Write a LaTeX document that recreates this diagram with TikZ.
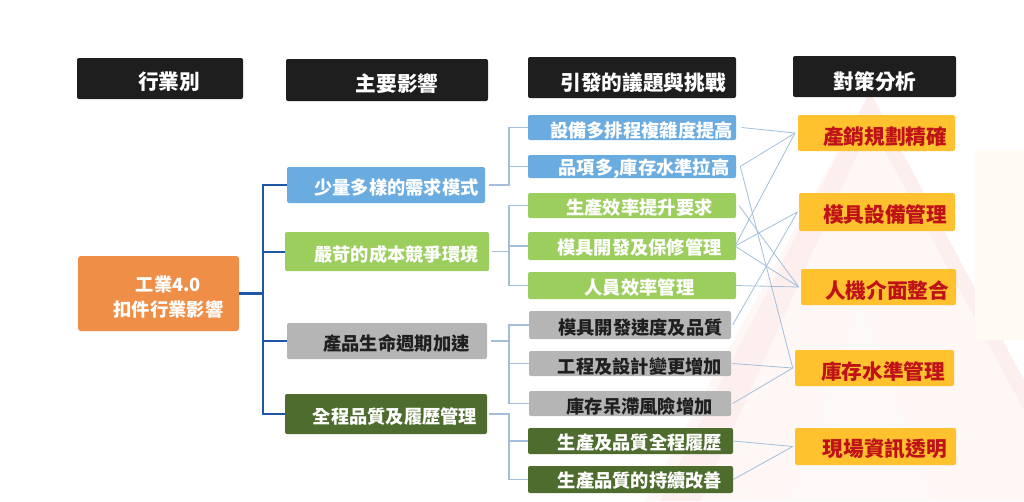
\documentclass[tikz,border=0pt]{standalone}
\usepackage{fontspec}
\setmainfont{Noto Sans CJK TC}
\usetikzlibrary{calc,fit}
\definecolor{hdrblack}{HTML}{1E1E1E}
\definecolor{orangebox}{HTML}{EF8E47}
\definecolor{bluebox}{HTML}{6AABE0}
\definecolor{greenbox}{HTML}{9CCE5E}
\definecolor{graybox}{HTML}{B5B5B5}
\definecolor{dgreenbox}{HTML}{4F6C2F}
\definecolor{yellowbox}{HTML}{FFC12E}
\definecolor{redtext}{HTML}{BE1118}
\definecolor{darkline}{HTML}{1F56A6}
\definecolor{lightline}{HTML}{A2BEDB}
\definecolor{bgpink}{HTML}{FEF7F6}
\definecolor{bgpink2}{HTML}{FCEFEE}
\definecolor{bgyellow}{HTML}{FFFBF2}
\begin{document}
\begin{tikzpicture}[x=0.75pt,y=-0.75pt,
  boxbase/.style={inner sep=0pt, draw=none, rounded corners=1.5pt},
  hdr/.style={boxbase, fill=hdrblack},
  htxt/.style={inner sep=0pt, text=white, font=\fontsize{15.5}{18}\selectfont\bfseries},
  wtxt/.style={inner sep=0pt, text=white, font=\fontsize{13.7}{16}\selectfont\bfseries},
  ktxt/.style={inner sep=0pt, text=black!88, font=\fontsize{13.7}{16}\selectfont\bfseries},
  rtxt/.style={inner sep=0pt, text=redtext, font=\fontsize{15.5}{18}\selectfont\bfseries},
  trunk/.style={draw=darkline, line width=1.5pt},
  stub/.style={draw=darkline, line width=2.8pt},
  twig/.style={draw=lightline, line width=0.9pt},
  link/.style={draw=lightline, line width=0.6pt}]
\useasboundingbox (0,0) rectangle (1024,501);
% faint background logo
\fill[bgpink] (870,92) -- (1024,385) -- (1024,501) -- (645,501) -- cycle;
\fill[bgpink2] (870,92) -- (1024,380) -- (1024,410) -- (862,108) -- cycle;
\fill[bgpink2] (870,92) -- (878,108) -- (700,501) -- (660,501) -- cycle;
\fill[white, opacity=0.35] (860,300) -- (935,501) -- (790,501) -- cycle;
\fill[bgyellow] (975,150) rectangle (1024,340);

% headers
\node[hdr, fit={(77,58) (243,99)}] (h1) {};
\node[hdr, fit={(286,59) (488,101)}] (h2) {};
\node[hdr, fit={(528,57) (736,98)}] (h3) {};
\node[hdr, fit={(793,56) (956,97)}] (h4) {};
\node[htxt] (h1t) at (169,82) {行業別};
\node[htxt] (h2t) at (397,84) {主要影響};
\node[htxt] (h3t) at (643,83) {引發的議題與挑戰};
\node[htxt] (h4t) at (875,82) {對策分析};

% column 1
\node[boxbase, fill=orangebox, rounded corners=2pt, fit={(78,256) (239,331)}] (o1) {};
\node[wtxt, align=center, font=\fontsize{13.7}{18.4}\selectfont\bfseries] (o1t) at (168.5,297) {工業4.0\\扣件行業影響};

% column 2
\node[boxbase, fill=bluebox, fit={(287,167) (485,203)}] (c21) {};
\node[boxbase, fill=greenbox, fit={(285,232) (489,271)}] (c22) {};
\node[boxbase, fill=graybox, fit={(287,323) (487,359)}] (c23) {};
\node[boxbase, fill=dgreenbox, fit={(285,394) (487,434)}] (c24) {};
\node[wtxt] (c21t) at (396.5,187) {少量多樣的需求模式};
\node[wtxt] (c22t) at (396.5,255) {嚴苛的成本競爭環境};
\node[ktxt] (c23t) at (396.5,343) {產品生命週期加速};
\node[wtxt] (c24t) at (395,417) {全程品質及履歷管理};

% column 3
\node[boxbase, fill=bluebox, fit={(528,115) (736,140)}] (c31) {};
\node[boxbase, fill=bluebox, fit={(528,155) (736,178)}] (c32) {};
\node[boxbase, fill=greenbox, fit={(528,193) (736,218)}] (c33) {};
\node[boxbase, fill=greenbox, fit={(528,232) (736,260)}] (c34) {};
\node[boxbase, fill=greenbox, fit={(528,272) (736,299)}] (c35) {};
\node[boxbase, fill=graybox, fit={(529,311) (731,339)}] (c36) {};
\node[boxbase, fill=graybox, fit={(529,351) (731,376)}] (c37) {};
\node[boxbase, fill=graybox, fit={(529,391) (731,416)}] (c38) {};
\node[boxbase, fill=dgreenbox, fit={(528,428) (733,454)}] (c39) {};
\node[boxbase, fill=dgreenbox, fit={(528,466) (733,493)}] (c3a) {};
\node[wtxt] (c31t) at (641.5,131) {設備多排程複雜度提高};
\node[wtxt] (c32t) at (644,169) {品項多,庫存水準拉高};
\node[wtxt] (c33t) at (639.5,208) {生產效率提升要求};
\node[wtxt] (c34t) at (639.5,248) {模具開發及保修管理};
\node[wtxt] (c35t) at (639.5,288) {人員效率管理};
\node[ktxt] (c36t) at (640.5,328) {模具開發速度及品質};
\node[ktxt] (c37t) at (640,367) {工程及設計變更增加};
\node[ktxt] (c38t) at (639.7,406) {庫存呆滯風險增加};
\node[wtxt] (c39t) at (640,443) {生產及品質全程履歷};
\node[wtxt] (c3at) at (640,481) {生產品質的持續改善};

% column 4
\node[boxbase, fill=yellowbox, fit={(798,115) (955,151)}] (k1) {};
\node[boxbase, fill=yellowbox, fit={(799,193) (955,231)}] (k2) {};
\node[boxbase, fill=yellowbox, fit={(801,269) (956,305)}] (k3) {};
\node[boxbase, fill=yellowbox, fit={(795,350) (954,386)}] (k4) {};
\node[boxbase, fill=yellowbox, fit={(795,428) (956,465)}] (k5) {};
\node[rtxt] (k1t) at (885,136.5) {產銷規劃精確};
\node[rtxt] (k2t) at (885,215) {模具設備管理};
\node[rtxt] (k3t) at (887,290) {人機介面整合};
\node[rtxt] (k4t) at (883,371.5) {庫存水準管理};
\node[rtxt] (k5t) at (884.7,449) {現場資訊透明};

% connectors column 1 -> column 2
\coordinate (j1) at (263,293.5);
\draw[stub] (o1.east) -- (j1);
\draw[trunk] (c21.west) -- (c21.west -| j1) -- (c24.west -| j1) -- (c24.west);
\draw[trunk] (c22.west) -- (c22.west -| j1);
\draw[trunk] (c23.west) -- (c23.west -| j1);

% connectors column 2 -> column 3
\coordinate (v1) at (509,0);
\draw[twig] ([xshift=3pt]c21.east) -- (c21.east -| v1) |- (c31.west);
\draw[twig] (c32.west) -- (c32.west -| v1);
\draw[twig] ([xshift=2pt]c22.east) -- (c22.east -| v1);
\draw[twig] (c33.west) -- (c33.west -| v1) -- (c35.west -| v1) -- (c35.west);
\draw[twig] (c34.west) -- (c34.west -| v1);
\draw[twig] ([xshift=3pt]c23.east) -- (c23.east -| v1);
\draw[twig] (c36.west) -- (c36.west -| v1) -- (c38.west -| v1) -- (c38.west);
\draw[twig] (c37.west) -- (c37.west -| v1);
\draw[twig] ([xshift=1pt]c24.east) -- (c24.east -| v1) |- (c3a.west);
\draw[twig] (c39.west) -- (c39.west -| v1);

% connectors column 3 -> column 4
\coordinate (p1) at ([xshift=-2pt]k1.west);
\coordinate (p2) at ([xshift=-1pt]k2.west);
\coordinate (p3) at ([xshift=-1.5pt]k3.west);
\coordinate (p4) at ([xshift=-1.5pt]k4.west);
\coordinate (p5) at ([xshift=-1.5pt]k5.west);
\draw[link] ([xshift=4pt]c31.east) -- (p1);
\draw[link] ([xshift=3pt]c32.east) -- (p1);
\draw[link] ([xshift=3pt]c32.east) -- (p4);
\draw[link] ([xshift=2pt]c33.east) -- (p3);
\draw[link] ([xshift=-1pt]c34.east) -- (p1);
\draw[link] ([xshift=-1pt]c34.east) -- (p2);
\draw[link] ([xshift=-1pt]c34.east) -- (p3);
\draw[link] ([xshift=-1pt]c35.east) -- (p3);
\draw[link] ([xshift=1pt]c36.east) -- (p2);
\draw[link] ([xshift=1pt]c37.east) -- (p4);
\draw[link] ([xshift=1pt]c38.east) -- (p4);
\draw[link] (c39.east) -- (p5);
\draw[link] (c3a.east) -- (p5);
\end{tikzpicture}
\end{document}
